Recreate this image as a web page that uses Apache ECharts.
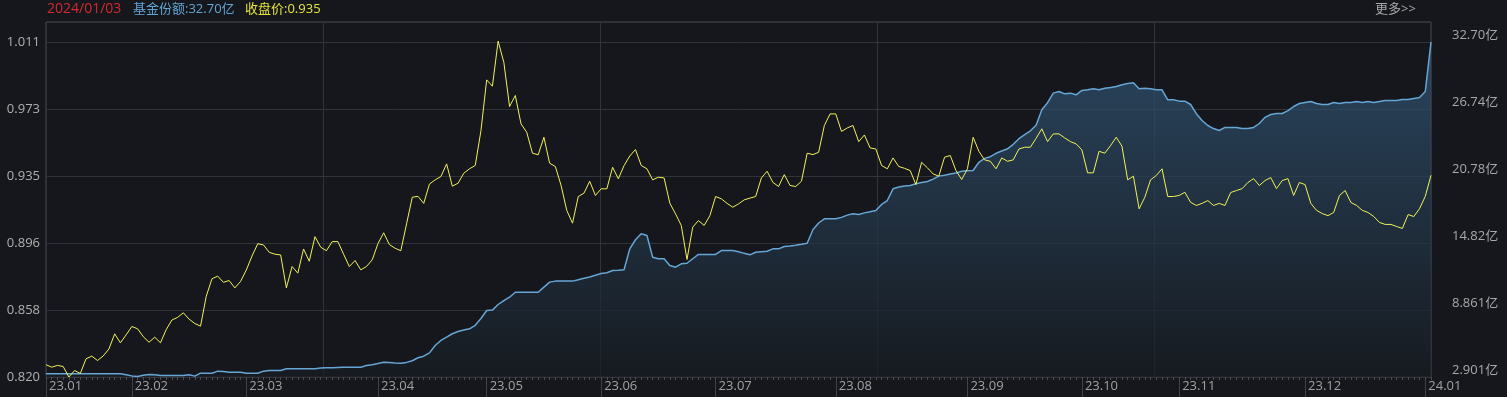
<!DOCTYPE html>
<html>
<head>
<meta charset="utf-8">
<script src="https://cdn.jsdelivr.net/npm/echarts@6/dist/echarts.min.js"></script>
<style>
html,body{margin:0;padding:0;background:#15171c;}
#c{width:1507px;height:397px;}
</style>
</head>
<body>
<div id="c"></div>
<script>
// Trading days (day-of-month) per month, 2023-01-04 .. 2024-01-03
const tradingDays = [
  ['2023-01', [4,5,6,9,10,11,12,13,16,17,18,19,20,30,31]],
  ['2023-02', [1,2,3,6,7,8,9,10,13,14,15,16,17,20,21,22,23,24,27,28]],
  ['2023-03', [1,2,3,6,7,8,9,10,13,14,15,16,17,20,21,22,23,24,27,28,29,30,31]],
  ['2023-04', [3,4,6,7,10,11,12,13,14,17,18,19,20,21,24,25,26,27,28]],
  ['2023-05', [4,5,8,9,10,11,12,15,16,17,18,19,22,23,24,25,26,29,30,31]],
  ['2023-06', [1,2,5,6,7,8,9,12,13,14,15,16,19,20,21,26,27,28,29,30]],
  ['2023-07', [3,4,5,6,7,10,11,12,13,14,17,18,19,20,21,24,25,26,27,28,31]],
  ['2023-08', [1,2,3,4,7,8,9,10,11,14,15,16,17,18,21,22,23,24,25,28,29,30,31]],
  ['2023-09', [1,4,5,6,7,8,11,12,13,14,15,18,19,20,21,22,25,26,27,28]],
  ['2023-10', [9,10,11,12,13,16,17,18,19,20,23,24,25,26,27,30,31]],
  ['2023-11', [1,2,3,6,7,8,9,10,13,14,15,16,17,20,21,22,23,24,27,28,29,30]],
  ['2023-12', [1,4,5,6,7,8,11,12,13,14,15,18,19,20,21,22,25,26,27,28,29]],
  ['2024-01', [2,3]]
];

// 收盘价 (left axis)
const closePrice = [
0.827,0.8256,0.8266,0.826,0.820,0.8237,0.822,0.8304,0.8319,0.8294,
0.832,0.836,0.8446,0.8395,0.844,0.8488,0.8475,0.843,0.8398,0.8427,
0.8395,0.847,0.8525,0.854,0.8566,0.853,0.8505,0.849,0.866,0.876,
0.8775,0.874,0.875,0.8708,0.8745,0.881,0.889,0.896,0.8953,0.8911,
0.890,0.8896,0.8708,0.883,0.8792,0.893,0.886,0.900,0.894,0.892,
0.8972,0.8972,0.890,0.883,0.8864,0.8811,0.883,0.8868,0.896,0.9022,
0.8955,0.8934,0.892,0.9073,0.9225,0.923,0.919,0.930,0.9324,0.9343,
0.9415,0.9288,0.9305,0.9362,0.9387,0.9406,0.9605,0.9894,0.9858,1.0115,
0.9994,0.9742,0.9805,0.9643,0.9595,0.9476,0.9467,0.9567,0.9419,0.940,
0.9292,0.9149,0.9077,0.9229,0.9248,0.9316,0.9235,0.9273,0.9273,0.9396,
0.933,0.9405,0.946,0.9497,0.9406,0.9387,0.9324,0.9339,0.9335,0.9191,
0.913,0.9064,0.887,0.9054,0.9092,0.9064,0.912,0.9229,0.9216,0.919,
0.9168,0.9187,0.921,0.922,0.9229,0.9335,0.9373,0.931,0.9286,0.9354,
0.9292,0.9286,0.9316,0.9476,0.9468,0.9481,0.9634,0.970,0.970,0.960,
0.962,0.9634,0.9542,0.958,0.9506,0.950,0.9406,0.9387,0.9449,0.940,
0.939,0.9377,0.9297,0.9424,0.9393,0.9358,0.9345,0.9453,0.9463,0.9377,
0.9326,0.9387,0.9567,0.9487,0.9438,0.943,0.9387,0.9449,0.943,0.9438,
0.950,0.951,0.951,0.9561,0.9615,0.9542,0.9586,0.9586,0.9563,0.9542,
0.9529,0.9495,0.9364,0.9364,0.9487,0.9476,0.9519,0.9567,0.9516,0.9324,
0.9345,0.9159,0.9225,0.9324,0.9349,0.9387,0.9229,0.9229,0.9235,0.9253,
0.9196,0.9178,0.919,0.9206,0.9178,0.919,0.9178,0.9252,0.9263,0.9274,
0.9309,0.9331,0.9292,0.932,0.9337,0.9274,0.932,0.9331,0.9235,0.9309,
0.9297,0.919,0.915,0.9132,0.912,0.9138,0.9235,0.9263,0.9195,0.9178,
0.915,0.9138,0.9115,0.9081,0.907,0.907,0.9058,0.9047,0.9126,0.9115,
0.916,0.923,0.935
];

// 基金份额 (亿, right axis)
const fundShares = [
3.19,3.19,3.19,3.19,3.19,3.19,3.19,3.19,3.19,3.19,
3.19,3.19,3.19,3.19,3.10,3.00,2.95,3.05,3.12,3.10,
3.03,3.03,3.03,3.03,3.03,3.10,2.98,3.24,3.24,3.24,
3.42,3.38,3.33,3.33,3.33,3.24,3.24,3.24,3.42,3.48,
3.48,3.48,3.63,3.63,3.63,3.63,3.63,3.63,3.70,3.72,
3.72,3.74,3.76,3.77,3.77,3.77,3.92,4.00,4.10,4.22,
4.18,4.14,4.13,4.20,4.35,4.61,4.75,5.05,5.70,6.15,
6.45,6.75,6.95,7.08,7.19,7.50,8.10,8.82,8.85,9.35,
9.70,10.00,10.44,10.44,10.44,10.44,10.44,10.90,11.34,11.43,
11.43,11.43,11.43,11.55,11.68,11.80,11.95,12.10,12.17,12.38,
12.40,12.44,14.30,15.11,15.64,15.49,13.56,13.42,13.42,12.82,
12.67,12.97,13.02,13.42,13.80,13.80,13.80,13.80,14.15,14.15,
14.15,14.05,13.90,13.77,14.00,14.05,14.09,14.30,14.30,14.51,
14.55,14.62,14.70,14.80,16.00,16.60,16.97,16.97,16.97,17.10,
17.30,17.42,17.36,17.50,17.60,17.71,18.25,18.60,19.64,19.80,
19.90,19.94,20.09,20.20,20.29,20.50,20.77,20.85,20.95,21.05,
21.20,21.25,21.27,22.00,22.35,22.50,22.80,23.00,23.20,23.60,
24.10,24.47,24.80,25.30,26.67,27.30,28.15,28.30,28.09,28.15,
28.00,28.39,28.45,28.54,28.45,28.59,28.65,28.74,28.90,29.00,
29.07,28.54,28.59,28.55,28.45,28.45,27.56,27.56,27.44,27.44,
27.14,26.32,25.72,25.27,25.00,24.83,25.10,25.10,25.10,25.00,
25.00,25.10,25.45,26.00,26.25,26.34,26.34,26.60,26.96,27.23,
27.32,27.41,27.23,27.14,27.14,27.32,27.23,27.32,27.32,27.41,
27.32,27.41,27.32,27.41,27.50,27.50,27.50,27.59,27.59,27.68,
27.77,28.30,32.70
];

// Axis tick values
const leftTicks = [0.820, 0.858, 0.896, 0.935, 0.973, 1.011];
const rightTicks = [2.901, 8.861, 14.82, 20.78, 26.74, 32.70];

const dates = [];
tradingDays.forEach(([ym, days]) => days.forEach(d => dates.push(ym + '-' + String(d).padStart(2, '0'))));
const isMonthStart = i => i === 0 || dates[i].slice(0, 7) !== dates[i - 1].slice(0, 7);

const leftInterval = (leftTicks[5] - leftTicks[0]) / 5;
const rightInterval = (rightTicks[5] - rightTicks[0]) / 5;
const plotH = 355, tickPx = 67;
const leftMax = leftTicks[0] + leftInterval * plotH / tickPx;
const rightMax = rightTicks[0] + rightInterval * plotH / tickPx;

const FONT = '"Open Sans", "Noto Sans CJK SC", sans-serif';
const lastI = dates.length - 1;
const lastDate = dates[lastI].replace(/-/g, '/');

const chart = echarts.init(document.getElementById('c'), null, {renderer: 'canvas'});
chart.setOption({
  backgroundColor: '#15171c',
  animation: false,
  textStyle: {fontFamily: FONT},
  grid: {left: 46, top: 22, width: 1385, height: plotH, show: true, borderColor: '#45484e', borderWidth: 1, backgroundColor: 'transparent'},
  graphic: [
    {type: 'text', left: 47, top: 2, style: {text: lastDate, fill: '#d42a2e', font: '14px ' + FONT}},
    {type: 'text', left: 133, top: 3, style: {text: '基金份额:' + fundShares[lastI].toFixed(2) + '亿', fill: '#62a6d6', font: '13px ' + FONT}},
    {type: 'text', left: 245, top: 3, style: {text: '收盘价:' + closePrice[lastI].toFixed(3), fill: '#e4e43a', font: '13px ' + FONT}},
    {type: 'text', left: 1375, top: 3, style: {text: '更多>>', fill: '#a8a8a8', font: '13px ' + FONT}}
  ],
  xAxis: [
    {
      type: 'category', data: dates, boundaryGap: false, position: 'bottom',
      axisLine: {show: false},
      axisTick: {show: true, interval: (i) => isMonthStart(i), length: 20, lineStyle: {color: '#3e4147'}},
      axisLabel: {
        interval: (i) => isMonthStart(i), align: 'left', padding: [0, 0, 0, 3], margin: 3,
        color: '#a2a2a2', fontSize: 13, fontFamily: FONT,
        formatter: v => v.slice(2, 4) + '.' + v.slice(5, 7)
      },
      splitLine: {show: false}
    },
    {
      type: 'category', data: dates, boundaryGap: false, position: 'bottom',
      axisLine: {show: false},
      axisTick: {show: true, interval: 0, length: 3, lineStyle: {color: '#4a4d53'}},
      axisLabel: {show: false},
      splitLine: {show: false}
    },
    {
      type: 'value', min: 0, max: 5, interval: 1, position: 'bottom',
      axisLine: {show: false}, axisTick: {show: false}, axisLabel: {show: false},
      splitLine: {show: true, lineStyle: {color: '#303339', width: 1}}
    }
  ],
  yAxis: [
    {
      type: 'value', position: 'left', min: leftTicks[0], max: leftMax, interval: leftInterval,
      axisLine: {show: false}, axisTick: {show: false},
      axisLabel: {
        color: '#b0b0b0', fontSize: 13, fontFamily: FONT, margin: 6,
        formatter: v => v > leftTicks[5] + leftInterval * 0.1 ? '' : v.toFixed(3)
      },
      splitLine: {show: true, lineStyle: {color: '#303339', width: 1}}
    },
    {
      type: 'value', position: 'right', min: rightTicks[0], max: rightMax, interval: rightInterval,
      axisLine: {show: false}, axisTick: {show: false},
      axisLabel: {
        color: '#a8a8a8', fontSize: 13, fontFamily: FONT, margin: 21, verticalAlign: 'bottom',
        formatter: v => v > rightTicks[5] + rightInterval * 0.1 ? '' : v.toPrecision(4) + '亿'
      },
      splitLine: {show: false}
    }
  ],
  series: [
    {
      name: '基金份额', type: 'line', xAxisIndex: 0, yAxisIndex: 1, data: fundShares,
      showSymbol: false, symbol: 'none', z: 2,
      lineStyle: {color: '#66a6d6', width: 1.5},
      areaStyle: {color: new echarts.graphic.LinearGradient(0, 0, 0, 1, [
        {offset: 0, color: '#33597b'}, {offset: 1, color: '#171c22'}
      ])}
    },
    {
      name: '收盘价', type: 'line', xAxisIndex: 0, yAxisIndex: 0, data: closePrice,
      showSymbol: false, symbol: 'none', z: 3,
      lineStyle: {color: '#f2f25a', width: 1}
    }
  ]
});
</script>
</body>
</html>
